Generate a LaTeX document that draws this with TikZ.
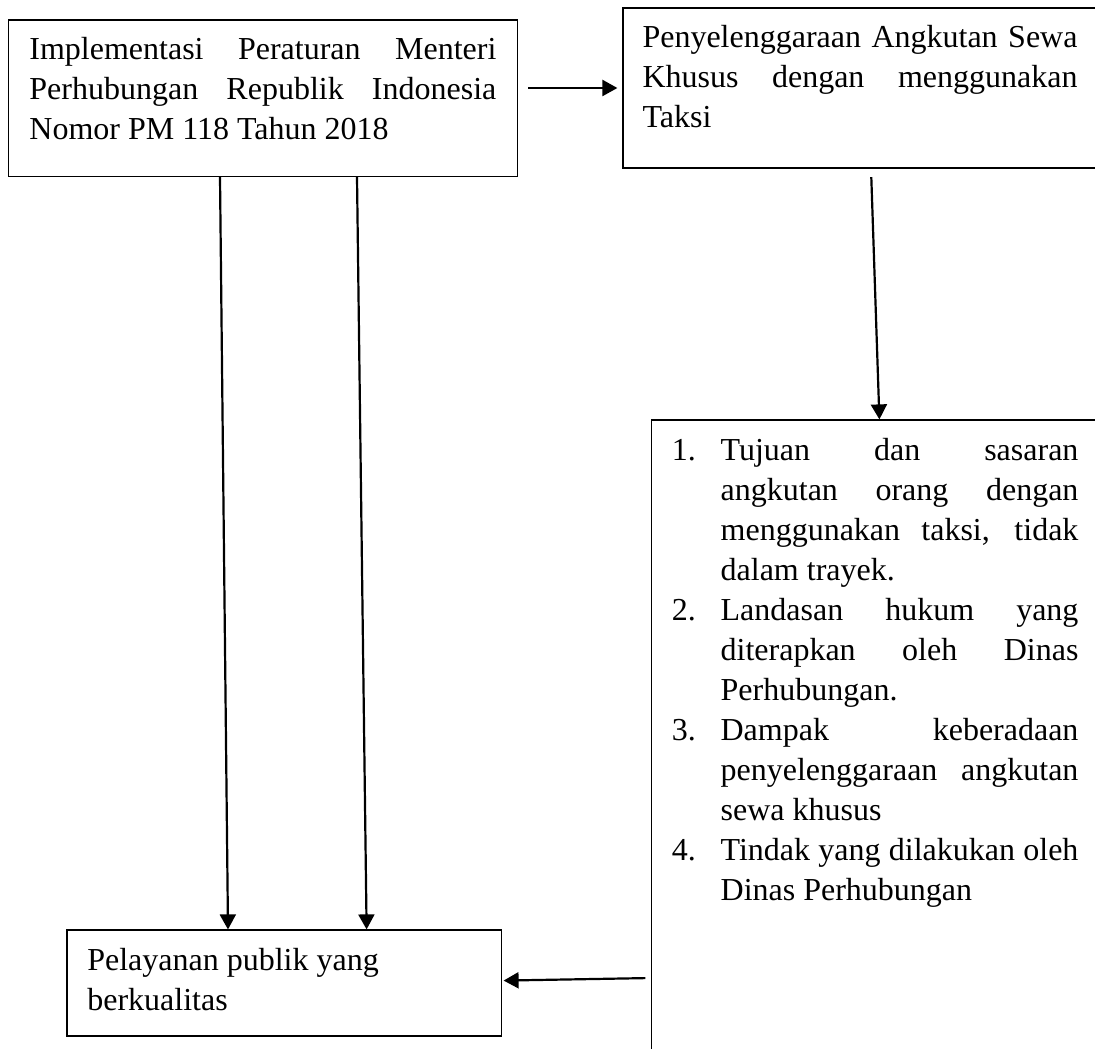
\documentclass[tikz,border=0pt]{standalone}
\usepackage{fontspec}
\setmainfont{Liberation Serif}
\usepackage{tikz}
\usetikzlibrary{arrows.meta, positioning}

\newcommand{\numitem}[2]{\hangindent=24.35pt\hangafter=1\noindent\makebox[24.35pt][l]{#1}#2\par}

\begin{document}
\begin{tikzpicture}[on grid, box/.style={rectangle, draw, line width=0.6pt, inner ysep=0pt, text height=20pt, align=justify, font=\fontsize{16}{20}\selectfont, execute at begin node={\spaceskip=4pt plus 40pt minus 1pt\hyphenpenalty=10000}}, link/.style={-{Triangle[length=7.5pt, width=8pt]}, line width=1.1pt}]

            \useasboundingbox (0,0) rectangle (547.5pt,-524pt);

            \node[box, text width=233.5pt, text depth=58.25pt, inner xsep=10.5pt] (rule) at (131.45pt,-49.125pt) {Implementasi Peraturan Menteri Perhubungan Republik Indonesia Nomor PM 118 Tahun 2018};
            \node[box, text width=217.5pt, text depth=60pt, inner xsep=9.75pt, above right=5.125pt and 298.55pt of rule] (taxi) {Penyelenggaraan Angkutan Sewa Khusus dengan menggunakan Taksi};
            \node[box, text width=203.25pt, text depth=300pt, inner xsep=10.25pt, below right=326pt and 7.6pt of taxi] (aspects) {\numitem{1.}{Tujuan dan sasaran angkutan orang dengan menggunakan taksi, tidak dalam trayek.}\numitem{2.}{Landasan hukum yang diterapkan oleh Dinas Perhubungan.}\numitem{3.}{Dampak keberadaan penyelenggaraan angkutan sewa khusus}\numitem{4.}{Tindak yang dilakukan oleh Dinas Perhubungan}};
            \node[box, text width=196.9pt, text depth=33pt, inner xsep=10.15pt, align=left, execute at begin node={\spaceskip=4pt}, below right=442.375pt and 10.65pt of rule] (service) {Pelayanan publik yang berkualitas};

            \draw[link, shorten <=5pt, shorten >=2.5pt] (rule.east |- taxi.west) -- (taxi.west);
            \draw[link] ([xshift=-21.45pt]rule.south) -- ([xshift=-28.1pt]service.north);
            \draw[link] ([xshift=47.05pt]rule.south) -- ([xshift=41.2pt]service.north);
            \draw[link, shorten <=4.25pt] ([xshift=5.5pt]taxi.south) -- ([xshift=2.1pt]aspects.north);
            \draw[link, shorten <=2.75pt, shorten >=0.8pt] ([yshift=-119pt]aspects.west) -- ([yshift=1.2pt]service.east);

        \end{tikzpicture}
\end{document}
